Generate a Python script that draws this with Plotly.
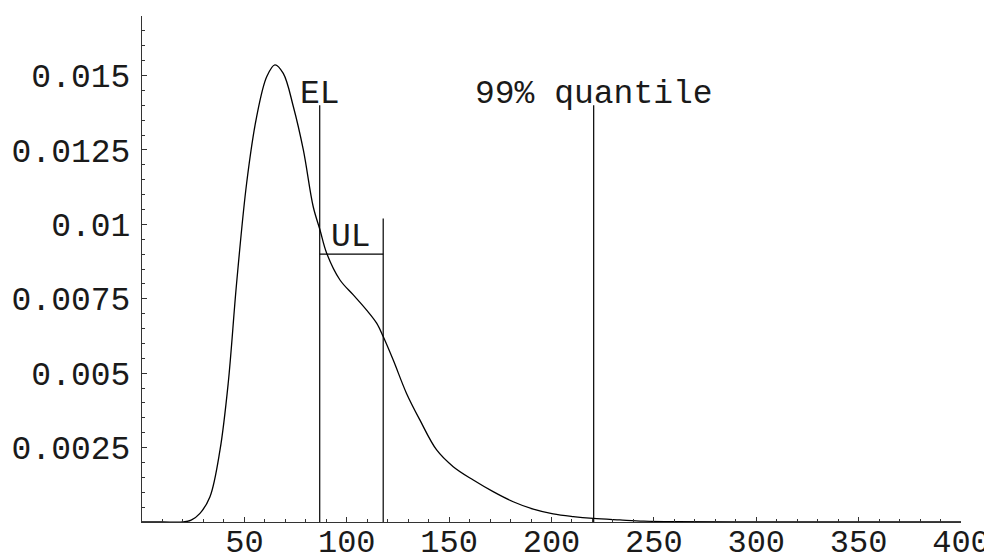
import plotly.graph_objects as go

# density curve
xs = [0, 10, 20, 24, 28.3, 33.2, 38.1, 42.1, 46.2, 51.1, 56, 60.9, 64.9, 69, 73.9, 78.8, 83.6, 86.9,
      90.2, 96.7, 103.2, 109.7, 114.6, 117.8, 122.7, 129.2, 135.7, 143.9, 152, 161.8, 171.5,
      181.3, 191.1, 200.8, 210.6, 220.4, 233.4, 245, 260, 300, 350, 400]
ys = [0, 0, 0, 0.00006, 0.00029, 0.00085, 0.00242, 0.00466, 0.00802, 0.01138, 0.01362, 0.01496,
      0.01536, 0.01507, 0.01396, 0.0125, 0.0106, 0.00982,
      0.00903, 0.00813, 0.00763, 0.00712, 0.00668, 0.00623, 0.00544, 0.00432, 0.00343, 0.00242,
      0.00186, 0.00141, 0.00102, 0.00068, 0.00043, 0.00027, 0.00018, 0.00012, 0.00007, 0.00003,
      0.00001, 0, 0, 0]

EL = 86.8
UL = 117.8
Q99 = 220.6
EL_top = 0.014
UL_top = 0.0102
UL_bar = 0.009
Q99_top = 0.014

xtick_vals = [50, 100, 150, 200, 250, 300, 350, 400]
ytick_vals = [0.0025, 0.005, 0.0075, 0.01, 0.0125, 0.015]
ytick_text = ["0.0025", "0.005", "0.0075", "0.01", "0.0125", "0.015"]

FONT = "Liberation Mono"
FS = 33

fig = go.Figure()
fig.add_trace(go.Scatter(x=xs, y=ys, mode="lines", line=dict(color="black", width=1.3, shape="spline", smoothing=1.0),
                         hoverinfo="skip"))
ln = dict(color="black", width=1.2)
fig.add_trace(go.Scatter(x=[EL, EL], y=[0, EL_top], mode="lines", line=ln))
fig.add_trace(go.Scatter(x=[UL, UL], y=[0, UL_top], mode="lines", line=ln))
fig.add_trace(go.Scatter(x=[EL, UL], y=[UL_bar, UL_bar], mode="lines", line=ln))
fig.add_trace(go.Scatter(x=[Q99, Q99], y=[0, Q99_top], mode="lines", line=ln))

ann_font = dict(family=FONT, size=FS, color="#1a1a1a")
fig.add_annotation(x=EL, y=0.01435, text="EL", showarrow=False, font=ann_font, xanchor="center", yanchor="middle")
fig.add_annotation(x=(EL + UL) / 2, y=0.00955, text="UL", showarrow=False, font=ann_font, xanchor="center", yanchor="middle")
fig.add_annotation(x=Q99, y=0.01435, text="99% quantile", showarrow=False, font=ann_font, xanchor="center", yanchor="middle")

axis_common = dict(showgrid=False, zeroline=False, showline=True, linecolor="#333333", linewidth=1,
                   ticks="inside", ticklen=5, tickwidth=1, tickcolor="#333333", automargin=False)

fig.update_xaxes(range=[0, 400], tickvals=xtick_vals, ticktext=[str(v) for v in xtick_vals],
                 minor=dict(dtick=10, tick0=0, ticks="inside", ticklen=3, tickcolor="#333333"),
                 ticklabelstandoff=-9, tickfont=dict(family=FONT, size=32, color="#1a1a1a"), **axis_common)
fig.update_yaxes(range=[0, 0.017], tickvals=ytick_vals, ticktext=ytick_text,
                 minor=dict(dtick=0.0005, tick0=0, ticks="inside", ticklen=3, tickcolor="#333333"),
                 ticklabelstandoff=4, tickfont=dict(family=FONT, size=FS, color="#1a1a1a"), **axis_common)

# the page body adds an 8px offset, so the figure is sized/margined to compensate
fig.update_layout(width=984, height=548, margin=dict(l=134, r=31, t=8, b=34),
                  plot_bgcolor="white", paper_bgcolor="white", showlegend=False)

fig.write_html("out.html")
